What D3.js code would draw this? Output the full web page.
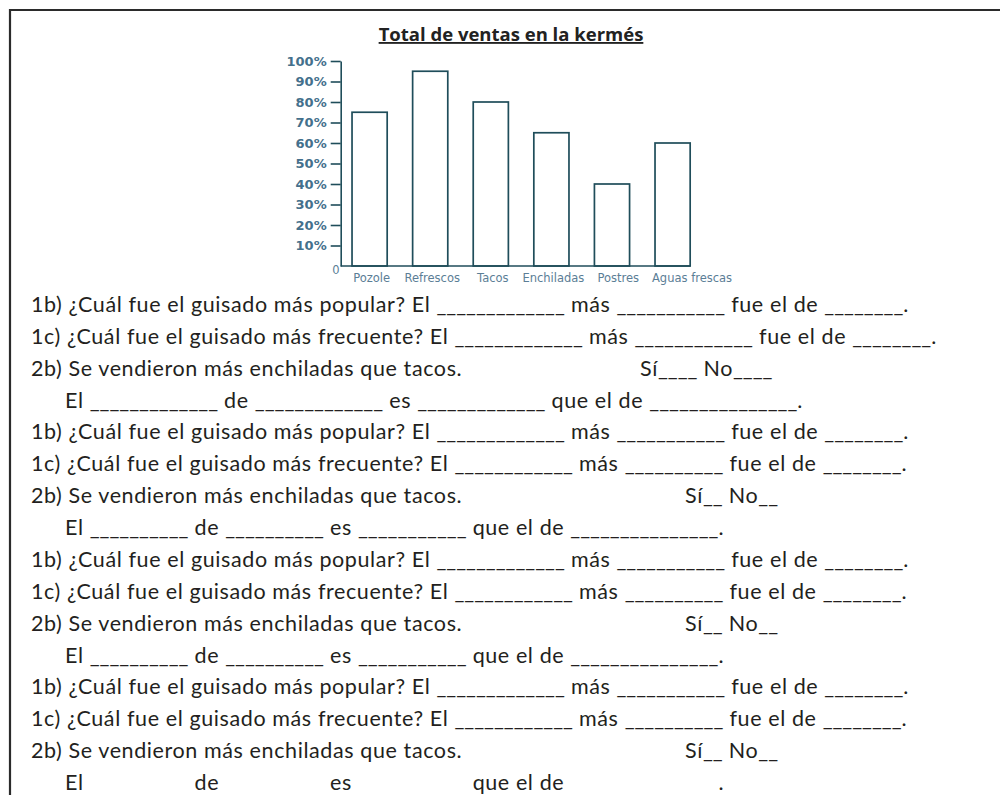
<!DOCTYPE html>
<html lang="es">
<head>
<meta charset="UTF-8">
<title>Total de ventas en la kermés</title>
<script src="https://cdn.jsdelivr.net/npm/d3@7"></script>
<style>
  body { margin: 0; background: #fff; }
  svg { display: block; }
  .title { font-family: "Open Sans", sans-serif; font-weight: 700; font-size: 18.5px; fill: #222; text-decoration: underline; }
  .yaxis text { font-family: "DejaVu Sans", sans-serif; font-weight: 700; font-size: 13px; fill: #44708c; }
  .yaxis path, .yaxis line { stroke: #1f4d5a; stroke-width: 1.6px; }
  .bar { fill: #fff; stroke: #1f4d5a; stroke-width: 1.7px; }
  .cat { font-family: "DejaVu Sans", sans-serif; font-size: 11.5px; fill: #5b7e96; }
  .row { font-family: Lato, sans-serif; font-size: 21.5px; letter-spacing: 0.6px; fill: #231f20; }
  .blank { letter-spacing: 0; }
  .cut { fill-opacity: 0; }
</style>
</head>
<body>
<script>
// chart values
const categories = ["Pozole", "Refrescos", "Tacos", "Enchiladas", "Postres", "Aguas frescas"];
const sales = [75, 95, 80, 65, 40, 60];
const yTicks = [10, 20, 30, 40, 50, 60, 70, 80, 90, 100];

// worksheet lines under the chart; numbers are blanks (count of underscores)
const q1b = "1b) ¿Cuál fue el guisado más popular? El ";
const q1c = "1c) ¿Cuál fue el guisado más frecuente? El ";
const q2b = "2b) Se vendieron más enchiladas que tacos.";
const rows = [
  { parts: [q1b, 13, " más ", 11, " fue el de ", 8, "."] },
  { parts: [q1c, 13, " más ", 12, " fue el de ", 8, "."] },
  { parts: [q2b], yesNo: ["Sí", 4, " No", 4], wide: false },
  { parts: ["El ", 13, " de ", 13, " es ", 13, " que el de ", 15, "."], indent: true },
  { parts: [q1b, 13, " más ", 11, " fue el de ", 8, "."] },
  { parts: [q1c, 12, " más ", 10, " fue el de ", 8, "."] },
  { parts: [q2b], yesNo: ["Sí", 2, " No", 2], wide: true },
  { parts: ["El ", 10, " de ", 10, " es ", 11, " que el de ", 15, "."], indent: true },
  { parts: [q1b, 13, " más ", 11, " fue el de ", 8, "."] },
  { parts: [q1c, 12, " más ", 10, " fue el de ", 8, "."] },
  { parts: [q2b], yesNo: ["Sí", 2, " No", 2], wide: true },
  { parts: ["El ", 10, " de ", 10, " es ", 11, " que el de ", 15, "."], indent: true },
  { parts: [q1b, 13, " más ", 11, " fue el de ", 8, "."] },
  { parts: [q1c, 12, " más ", 10, " fue el de ", 8, "."] },
  { parts: [q2b], yesNo: ["Sí", 2, " No", 2], wide: true },
  { parts: ["El ", 10, " de ", 10, " es ", 11, " que el de ", 15, "."], indent: true, cut: true }
];

const width = 1000, height = 795;

const svg = d3.select("body").append("svg")
  .attr("width", width)
  .attr("height", height);

svg.append("rect").attr("width", width).attr("height", height).attr("fill", "#fff");

// frame of the page (only left and top edges are visible)
svg.append("path")
  .attr("d", `M10,${height} V10 H${width}`)
  .attr("fill", "none")
  .attr("stroke", "#2b2b2b")
  .attr("stroke-width", 2.2);

svg.append("text")
  .attr("class", "title")
  .attr("x", 511)
  .attr("y", 41)
  .attr("text-anchor", "middle")
  .text("Total de ventas en la kermés");

const x = d3.scaleBand()
  .domain(categories)
  .range([340.7, 701.5])
  .paddingInner(0.42)
  .paddingOuter(0.187);

const y = d3.scaleLinear()
  .domain([0, 100])
  .range([266, 61]);

// y axis
svg.append("g")
  .attr("class", "yaxis")
  .attr("transform", `translate(${x.range()[0]},0)`)
  .call(d3.axisLeft(y).tickValues(yTicks).tickSize(10).tickSizeOuter(0).tickPadding(4).tickFormat(d => d + "%"));

svg.append("text")
  .attr("class", "cat")
  .attr("x", x.range()[0] - 1)
  .attr("y", y(0) + 8)
  .attr("text-anchor", "end")
  .text("0");

// bars
svg.selectAll(".bar")
  .data(sales)
  .enter()
  .append("rect")
  .attr("class", "bar")
  .attr("x", (d, i) => x(categories[i]))
  .attr("y", d => y(d))
  .attr("width", x.bandwidth())
  .attr("height", d => y(0) - y(d));

// baseline
svg.append("line")
  .attr("x1", x.range()[0])
  .attr("x2", x(categories[categories.length - 1]) + x.bandwidth())
  .attr("y1", y(0))
  .attr("y2", y(0))
  .attr("stroke", "#1f4d5a")
  .attr("stroke-width", 1.7);

// category labels, centred under bars but pushed right when they would collide
let lastEnd = -Infinity;
svg.selectAll(".cat-label")
  .data(categories)
  .enter()
  .append("text")
  .attr("class", "cat")
  .attr("y", y(0) + 16)
  .text(d => d)
  .each(function (d) {
    const w = this.getComputedTextLength();
    let left = x(d) + x.bandwidth() / 2 + 2 - w / 2;
    if (left < lastEnd + 13) left = lastEnd + 13;
    lastEnd = left + w;
    d3.select(this).attr("x", left);
  });

// question rows
const rowY = d3.scaleLinear().domain([0, rows.length - 1]).range([312, 790]);

function addParts(sel, parts, cut) {
  parts.forEach(p => {
    if (typeof p === "number") {
      sel.append("tspan").attr("class", cut ? "blank cut" : "blank").text("_".repeat(p));
    } else {
      sel.append("tspan").text(p);
    }
  });
}

rows.forEach((r, i) => {
  const t = svg.append("text")
    .attr("class", "row")
    .attr("xml:space", "preserve")
    .attr("x", r.indent ? 65 : 31)
    .attr("y", rowY(i));
  addParts(t, r.parts, r.cut);

  if (r.yesNo) {
    const yn = svg.append("text")
      .attr("class", "row")
      .attr("xml:space", "preserve")
      .attr("x", r.wide ? 685 : 640)
      .attr("y", rowY(i));
    addParts(yn, r.yesNo, false);
  }
});
</script>
</body>
</html>
